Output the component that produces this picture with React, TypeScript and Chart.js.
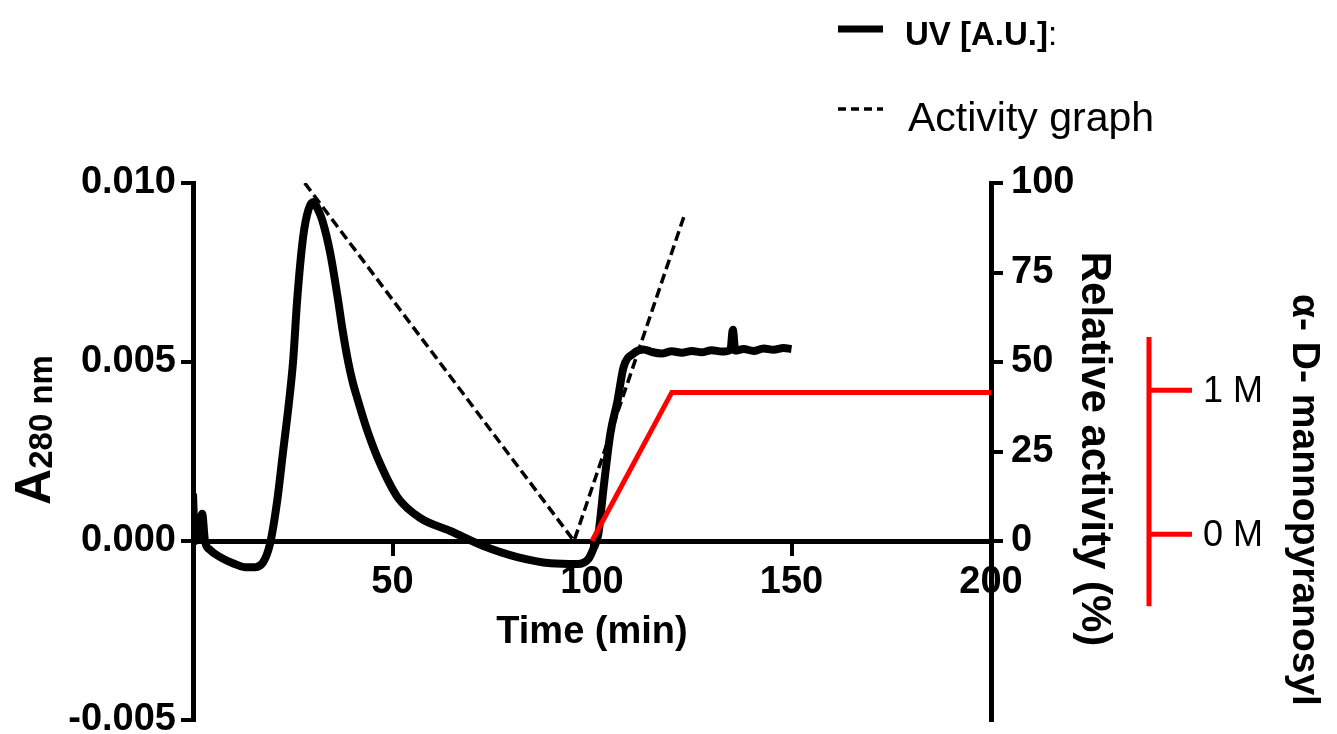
import React, { useEffect, useRef } from 'react';
import { Chart, registerables } from 'chart.js';

Chart.register(...registerables);

const FONT = "'Liberation Sans', Arial, Helvetica, sans-serif";

// UV trace (time in min, absorbance A280)
const uvTime = [
  0, 0.5, 1.5, 2.3, 3.0, 4.3, 6.8, 10.0, 13.0, 15.6, 17.6, 19.3, 21.1, 22.6, 24.1, 25.1, 26.1, 27.6, 28.9, 30.1,
  31.4, 32.4, 34.4, 36.4, 37.4, 38.9, 40.0, 41.2, 43.7, 46.9, 51.4, 57.0, 64.5, 72.8, 81.3, 89.6, 96.4, 99.1, 100.4,
  101.6, 102.9, 104.6, 106.4, 107.9, 110.4, 112.9, 115.0, 117.5, 120.0, 122.5, 125.0, 127.5, 130.0, 132.5,
  134.7, 135.3, 135.9, 138.0, 140.5, 143.0, 145.5, 148.0, 150.0,
];
const uvAbs = [
  0.00132, 0.0, 0.00036, 0.00076, 0.0, -0.00025, -0.00045, -0.00062, -0.00073, -0.00073, -0.00059, -0.00008,
  0.00112, 0.00252, 0.00392, 0.00504, 0.00672, 0.00849, 0.00924, 0.00947,
  0.00924, 0.00896, 0.00804, 0.0067, 0.00595, 0.005, 0.00445, 0.00398, 0.00308, 0.00216, 0.0012, 0.00064, 0.00028,
  -0.00014, -0.00045, -0.00062, -0.00064, -0.0005, -0.0002,
  0.0002, 0.00148, 0.003, 0.00392, 0.00485, 0.00524, 0.00535, 0.00528, 0.00524, 0.0053, 0.00526, 0.00531,
  0.00527, 0.00533, 0.00529, 0.00534, 0.0059, 0.00532, 0.00536, 0.00531, 0.00538, 0.00534, 0.00539, 0.00536,
];

// Activity graph (dashed), relative activity %
const activityTime = [28, 95.5, 123];
const activityPct = [100, 0, 90.5];

// α-D-mannopyranosyl gradient (red), drawn on the relative-activity scale
const mannoseTime = [100, 120, 200];
const mannosePct = [0, 41.5, 41.5];

// Axis ticks
const xTicks = [50, 100, 150, 200];
const leftTicks = [-0.005, 0, 0.005, 0.01];
const rightTicks = [0, 25, 50, 75, 100];
const mannoseAxisTicks = [0, 1];
const mannoseAxisLabels = ['0 M', '1 M'];
const mannoseAxisExtent = [-0.5, 1.37];

const decorPlugin = {
  id: 'decor',
  afterDraw(chart: any) {
    const ctx: CanvasRenderingContext2D = chart.ctx;
    const { chartArea, scales } = chart;
    ctx.save();
    ctx.fillStyle = '#000';
    ctx.strokeStyle = '#000';

    // X title
    ctx.font = `bold 38px ${FONT}`;
    ctx.textAlign = 'center';
    ctx.textBaseline = 'alphabetic';
    ctx.fillText('Time (min)', (chartArea.left + chartArea.right) / 2, 643);

    // Left title A280 nm
    ctx.save();
    ctx.translate(50, 430);
    ctx.rotate(-Math.PI / 2);
    ctx.font = `bold 50px ${FONT}`;
    const wA = ctx.measureText('A').width;
    ctx.font = `bold 33px ${FONT}`;
    const wS = ctx.measureText('280 nm').width;
    const total = wA + wS;
    ctx.textAlign = 'left';
    ctx.font = `bold 50px ${FONT}`;
    ctx.fillText('A', -total / 2, 0);
    ctx.font = `bold 33px ${FONT}`;
    ctx.fillText('280 nm', -total / 2 + wA, 2);
    ctx.restore();

    // Right title
    ctx.save();
    ctx.translate(1082, 449);
    ctx.rotate(Math.PI / 2);
    ctx.font = `bold 42px ${FONT}`;
    ctx.textAlign = 'center';
    ctx.fillText('Relative activity (%)', 0, 0);
    ctx.restore();

    // Mannose axis (red)
    const y2 = scales.y2;
    const ax = 1149;
    ctx.strokeStyle = '#ff0000';
    ctx.lineWidth = 5;
    ctx.beginPath();
    ctx.moveTo(ax, y2.getPixelForValue(mannoseAxisExtent[1]));
    ctx.lineTo(ax, y2.getPixelForValue(mannoseAxisExtent[0]));
    ctx.stroke();
    ctx.font = `36px ${FONT}`;
    ctx.textAlign = 'left';
    ctx.textBaseline = 'middle';
    mannoseAxisTicks.forEach((v, i) => {
      const py = y2.getPixelForValue(v);
      ctx.beginPath();
      ctx.moveTo(ax, py);
      ctx.lineTo(ax + 43, py);
      ctx.stroke();
      ctx.fillText(mannoseAxisLabels[i], 1203, py + 2);
    });

    // α label
    ctx.save();
    ctx.translate(1293, 500);
    ctx.rotate(Math.PI / 2);
    ctx.font = `bold 39px ${FONT}`;
    ctx.textAlign = 'center';
    ctx.textBaseline = 'alphabetic';
    ctx.fillText('α- D- mannopyranosyl', 0, 0);
    ctx.restore();

    // Legend
    ctx.strokeStyle = '#000';
    ctx.lineWidth = 7;
    ctx.setLineDash([]);
    ctx.beginPath();
    ctx.moveTo(838, 29);
    ctx.lineTo(883, 29);
    ctx.stroke();
    ctx.lineWidth = 3.5;
    ctx.setLineDash([8, 5]);
    ctx.beginPath();
    ctx.moveTo(838, 109);
    ctx.lineTo(883, 109);
    ctx.stroke();
    ctx.setLineDash([]);
    ctx.textAlign = 'left';
    ctx.textBaseline = 'alphabetic';
    ctx.font = `bold 33px ${FONT}`;
    ctx.fillText('UV [A.U.]', 905, 45);
    const wUV = ctx.measureText('UV [A.U.]').width;
    ctx.font = `33px ${FONT}`;
    ctx.fillText(':', 905 + wUV, 45);
    ctx.font = `41px ${FONT}`;
    ctx.fillText('Activity graph', 908, 131);

    ctx.restore();
  },
};

export default function App() {
  const ref = useRef<HTMLCanvasElement>(null);
  useEffect(() => {
    const canvas = ref.current!;
    const tickFont = { family: FONT, size: 38, weight: 'bold' as const };
    const chart = new Chart(canvas, {
      type: 'line',
      data: {
        datasets: [
          {
            label: 'mannose',
            data: mannoseTime.map((t, i) => ({ x: t, y: mannosePct[i] })),
            yAxisID: 'y1',
            borderColor: '#ff0000',
            borderWidth: 5,
            pointRadius: 0,
            tension: 0,
          },
          {
            label: 'Activity graph',
            data: activityTime.map((t, i) => ({ x: t, y: activityPct[i] })),
            yAxisID: 'y1',
            borderColor: '#000',
            borderWidth: 3.5,
            borderDash: [10, 5],
            pointRadius: 0,
            tension: 0,
          },
          {
            label: 'UV [A.U.]',
            data: uvTime.map((t, i) => ({ x: t, y: uvAbs[i] })),
            yAxisID: 'y',
            borderColor: '#000',
            borderWidth: 8,
            pointRadius: 0,
            cubicInterpolationMode: 'monotone',
            borderJoinStyle: 'round',
          },
        ],
      },
      options: {
        responsive: false,
        animation: false,
        devicePixelRatio: 1,
        events: [],
        layout: { padding: { top: 183, bottom: 14, left: 0, right: 0 } },
        plugins: { legend: { display: false }, tooltip: { enabled: false } },
        scales: {
          x: {
            type: 'linear',
            min: 0,
            max: 200,
            position: { y: 0 } as any,
            afterBuildTicks: (s: any) => {
              s.ticks = xTicks.map((v) => ({ value: v }));
            },
            afterFit: (s: any) => {
              s.height = 0;
              s.paddingLeft = 0;
              s.paddingRight = 0;
            },
            border: { display: true, width: 5, color: '#000' },
            grid: { display: true, drawOnChartArea: false, drawTicks: true, tickLength: 12, lineWidth: 4, color: '#000' },
            ticks: { color: '#000', font: tickFont, padding: 7, maxRotation: 0, autoSkip: false },
          },
          y: {
            type: 'linear',
            position: 'left',
            min: -0.005,
            max: 0.01,
            afterBuildTicks: (s: any) => {
              s.ticks = leftTicks.map((v) => ({ value: v }));
            },
            afterFit: (s: any) => {
              s.width = 193;
              s.paddingTop = 0;
              s.paddingBottom = 0;
            },
            border: { display: true, width: 5, color: '#000' },
            grid: { display: true, drawOnChartArea: false, drawTicks: true, tickLength: 12, lineWidth: 4, color: '#000' },
            ticks: {
              color: '#000',
              font: tickFont,
              padding: 5,
              callback: (v: any) => Number(v).toFixed(3),
            },
          },
          y1: {
            type: 'linear',
            position: 'right',
            min: -50,
            max: 100,
            afterBuildTicks: (s: any) => {
              s.ticks = rightTicks.map((v) => ({ value: v }));
            },
            afterFit: (s: any) => {
              s.width = 1337 - 991;
              s.paddingTop = 0;
              s.paddingBottom = 0;
            },
            border: { display: true, width: 5, color: '#000' },
            grid: { display: true, drawOnChartArea: false, drawTicks: true, tickLength: 12, lineWidth: 4, color: '#000' },
            ticks: { color: '#000', font: tickFont, padding: 8 },
          },
          y2: {
            type: 'linear',
            display: false,
            min: -1.29,
            max: 2.44,
          },
        },
      } as any,
      plugins: [decorPlugin],
    });
    return () => chart.destroy();
  }, []);

  return (
    <div style={{ position: 'absolute', left: 0, top: 0, width: 1337, height: 734, background: '#fff' }}>
      <canvas ref={ref} width={1337} height={734} style={{ display: 'block' }} />
    </div>
  );
}
